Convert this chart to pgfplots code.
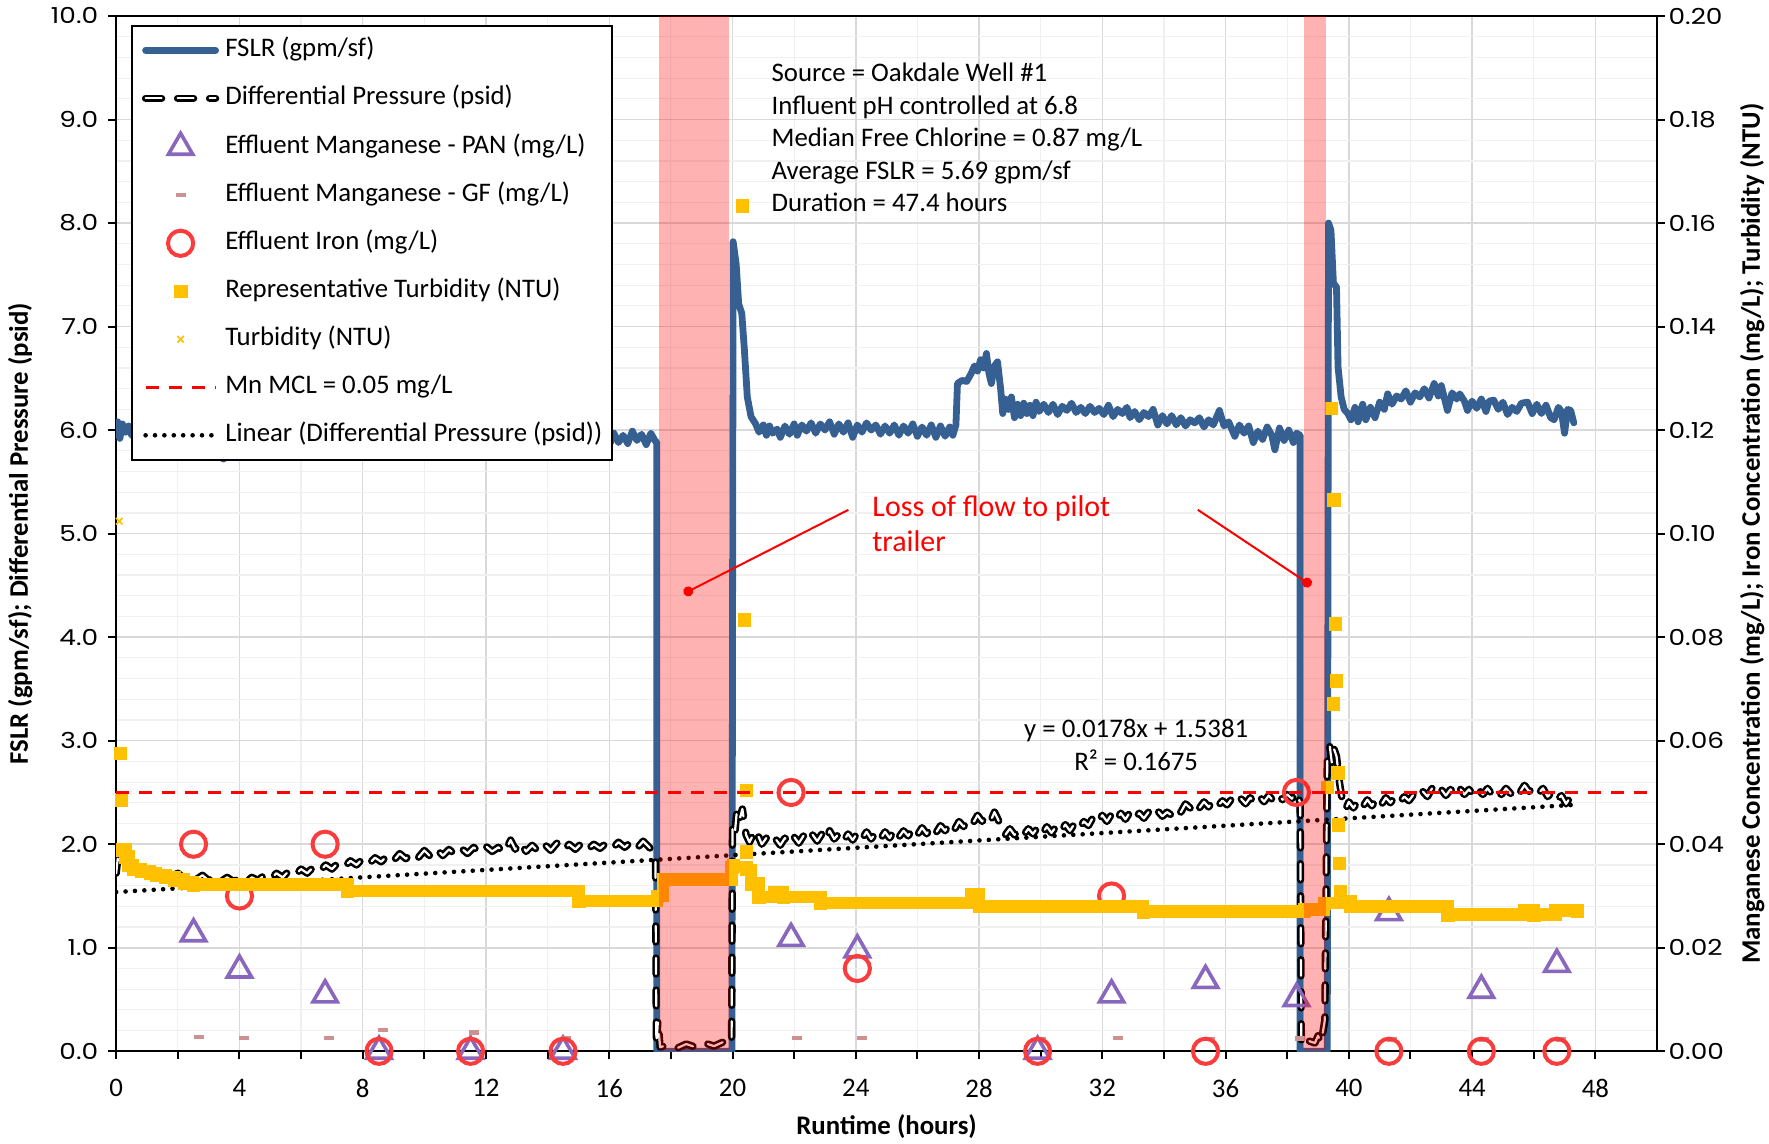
\documentclass[border=0pt]{standalone}
\usepackage{fontspec}
\setmainfont{Carlito}
\newfontfamily\tickfont[FakeStretch=1.2]{Poppins}
\usepackage{pgfplots}
\pgfplotsset{compat=1.18}
\usetikzlibrary{arrows.meta}

\definecolor{fslr}{RGB}{55,96,146}
\definecolor{pan}{RGB}{137,103,189}
\definecolor{iron}{RGB}{250,60,60}
\definecolor{turb}{RGB}{255,192,0}
\definecolor{gf}{RGB}{206,145,145}
\definecolor{majgrid}{RGB}{217,217,217}
\definecolor{mingrid}{RGB}{240,240,240}

\newcommand{\txt}{\fontsize{13.4}{16}\selectfont}
\newcommand{\ytk}{\tickfont\fontsize{11}{13}\selectfont}

\tikzset{
  fslrline/.style={color=fslr, line width=3.4pt, line join=round, line cap=round},
  dpline/.style={draw=black, line width=1.3pt, double=white, double distance=1.1pt,
                 dash pattern=on 8pt off 8pt, line cap=round, line join=round},
  trendline/.style={black, line width=2.3pt, line cap=round, dash pattern=on 0pt off 4.7pt},
}

\begin{document}
\begin{tikzpicture}
\path[use as bounding box] (-58.1pt,-46.35pt) rectangle (826.4pt,525.65pt);

% ---------- left axis: flow rate and differential pressure ----------
\begin{axis}[
  at={(0pt,0pt)}, anchor=south west,
  scale only axis, width=770.4pt, height=517.65pt,
  xmin=0, xmax=50, ymin=0, ymax=10,
  axis line style={black, line width=1.2pt},
  tick pos=left, tick align=outside,
  xtick={0,4,...,48},
  minor x tick num=1,
  extra x ticks={2,6,10,14,18,22,26,30,34,38,42,46},
  extra x tick style={grid=none, xticklabel={}},
  ytick={0,1,...,10},
  minor y tick num=4,
  major tick length=4pt, minor tick length=0pt,
  tick style={black, line width=1pt},
  grid=both,
  major grid style={draw=majgrid, line width=0.75pt},
  minor grid style={draw=mingrid, line width=0.6pt},
  /pgf/number format/assume math mode=true,
  xticklabel style={font=\txt, yshift=-6.5pt},
  yticklabel={\ytk\pgfmathprintnumber[fixed,fixed zerofill,precision=1]{\tick}},
  yticklabel style={xshift=-1.5pt},
  xlabel={\textbf{Runtime (hours)}},
  ylabel={\textbf{FSLR (gpm/sf); Differential Pressure (psid)}},
  every axis x label/.style={at={(axis description cs:0.5,0)}, anchor=base, yshift=-41.5pt, font=\txt},
  every axis y label/.style={at={(axis description cs:-0.0623,0.5)}, rotate=90, anchor=center, font=\txt},
]
% FSLR (gpm/sf)
\addplot[fslrline] coordinates {
(0,5.95) (0.05,6.08) (0.12,5.92) (0.2,6.06) (0.3,5.98) (0.4,6.04) (0.5,5.95) (0.7,6.0) (1.0,5.95) (1.5,6.0)
(2.0,5.95) (2.5,5.92) (3.0,5.97) (3.4,5.9) (3.48,5.72) (3.56,5.92) (4.0,5.98) (5.0,5.95) (6.0,5.99) (7.0,5.95)
(8.0,5.98) (9.0,5.94) (10.0,5.98) (11.0,5.94) (12.0,5.97) (13.0,5.93) (14.0,5.96) (15.0,5.92) (15.5,5.95)
(15.8,5.92) (16.0,5.85) (16.15,5.97) (16.3,5.88) (16.45,5.95) (16.6,5.87) (16.75,5.99) (16.9,5.9) (17.05,5.96)
(17.2,5.86) (17.35,5.97) (17.48,5.9) (17.54,5.88) (17.54,0) (19.98,0) (20.02,7.82)
(20.12,7.6) (20.2,7.22) (20.3,7.13) (20.38,6.8) (20.48,6.32) (20.6,6.13) (20.75,6.06) (20.86,5.98) (21.0,6.05)
(21.1,5.95) (21.2,6.04) (21.3,5.97) (21.45,6.01) (21.55,5.93) (21.7,6.04) (21.85,5.96) (22.0,6.06) (22.1,5.95)
(22.25,6.05) (22.4,5.99) (22.55,6.07) (22.7,5.97) (22.85,6.06) (23.0,6.0) (23.15,6.08) (23.3,5.96) (23.45,6.06)
(23.6,5.98) (23.75,6.07) (23.9,5.93) (24.05,6.05) (24.2,5.98) (24.35,6.07) (24.5,6.0) (24.65,6.05) (24.8,5.96)
(24.95,6.04) (25.1,5.97) (25.25,6.05) (25.4,5.95) (25.55,6.04) (25.7,5.97) (25.85,6.06) (26.0,5.94) (26.15,6.03)
(26.3,5.95) (26.45,6.05) (26.6,5.93) (26.75,6.04) (26.9,5.94) (27.05,6.03) (27.15,5.95) (27.25,6.05) (27.3,6.45)
(27.45,6.48) (27.6,6.47) (27.75,6.55) (27.85,6.62) (27.95,6.57) (28.05,6.68) (28.15,6.6) (28.24,6.74) (28.32,6.55)
(28.4,6.45) (28.5,6.62) (28.6,6.66) (28.7,6.4) (28.77,6.16) (28.85,6.3) (28.95,6.2) (29.05,6.32) (29.15,6.12)
(29.25,6.25) (29.35,6.14) (29.45,6.26) (29.55,6.16) (29.65,6.24) (29.75,6.14) (29.85,6.27) (29.95,6.18) (30.1,6.25)
(30.25,6.17) (30.4,6.25) (30.55,6.15) (30.7,6.23) (30.85,6.19) (31.0,6.26) (31.15,6.17) (31.3,6.22) (31.45,6.16)
(31.6,6.23) (31.75,6.17) (31.9,6.21) (32.05,6.15) (32.2,6.24) (32.35,6.13) (32.5,6.2) (32.65,6.16) (32.8,6.22)
(32.9,6.12) (33.05,6.18) (33.2,6.1) (33.35,6.17) (33.5,6.13) (33.65,6.2) (33.8,6.05) (33.95,6.14) (34.1,6.06)
(34.25,6.14) (34.4,6.05) (34.55,6.12) (34.7,6.04) (34.85,6.1) (35.0,6.07) (35.15,6.12) (35.3,6.03) (35.45,6.1)
(35.6,6.05) (35.8,6.19) (35.95,6.04) (36.1,6.08) (36.3,5.94) (36.45,6.05) (36.6,5.97) (36.75,6.04) (36.9,5.88)
(37.05,5.99) (37.2,5.91) (37.35,6.03) (37.5,5.95) (37.6,5.81) (37.75,6.02) (37.9,5.9) (38.05,6.0) (38.2,5.88)
(38.3,5.97) (38.42,5.95) (38.42,0) (39.3,0) (39.34,8.0) (39.42,7.93) (39.5,7.42) (39.6,7.38) (39.65,6.61)
(39.75,6.32) (39.85,6.2) (39.97,6.16) (40.07,6.1) (40.2,6.22) (40.3,6.08) (40.45,6.25) (40.55,6.1) (40.7,6.22)
(40.85,6.12) (41.0,6.27) (41.15,6.2) (41.26,6.35) (41.4,6.25) (41.55,6.33) (41.7,6.3) (41.85,6.38) (42.0,6.27)
(42.15,6.36) (42.3,6.32) (42.45,6.4) (42.6,6.31) (42.77,6.45) (42.9,6.33) (43.0,6.43) (43.2,6.19) (43.35,6.36)
(43.5,6.3) (43.6,6.35) (43.75,6.28) (43.85,6.19) (44.0,6.28) (44.15,6.21) (44.3,6.3) (44.45,6.18) (44.55,6.28)
(44.7,6.29) (44.85,6.2) (45.0,6.27) (45.15,6.15) (45.3,6.22) (45.45,6.18) (45.6,6.26) (45.8,6.27) (45.95,6.16)
(46.1,6.25) (46.25,6.16) (46.4,6.24) (46.55,6.12) (46.66,6.1) (46.8,6.22) (46.9,6.18) (47.0,5.97) (47.1,6.2)
(47.2,6.19) (47.3,6.07)
};
% Differential Pressure (psid)
\addplot[dpline] coordinates {
(0.0,1.72) (0.05,1.86) (0.15,1.79) (0.25,1.83) (0.4,1.76) (0.55,1.80) (0.7,1.74) (0.85,1.78) (1.0,1.72)
(1.2,1.76) (1.4,1.70) (1.6,1.74) (1.8,1.68) (2.0,1.72) (2.2,1.67) (2.4,1.71) (2.6,1.66) (2.8,1.70) (3.0,1.65)
(3.2,1.69) (3.4,1.64) (3.6,1.68) (3.8,1.64) (4.0,1.67) (4.2,1.63) (4.4,1.68) (4.6,1.65) (4.8,1.70) (5.0,1.66)
(5.2,1.72) (5.4,1.68) (5.6,1.74) (5.8,1.70) (6.0,1.76) (6.2,1.72) (6.4,1.78) (6.6,1.74) (6.8,1.80) (7.0,1.76)
(7.2,1.82) (7.4,1.78) (7.6,1.84) (7.8,1.80) (8.0,1.86) (8.2,1.81) (8.4,1.87) (8.6,1.83) (8.8,1.89) (9.0,1.84)
(9.2,1.91) (9.4,1.86) (9.6,1.92) (9.8,1.87) (10.0,1.94) (10.2,1.88) (10.4,1.95) (10.6,1.89) (10.8,1.95)
(11.0,1.90) (11.2,1.96) (11.4,1.91) (11.6,1.97) (11.8,1.92) (12.0,1.98) (12.2,1.93) (12.4,1.97) (12.6,1.92)
(12.8,2.04) (12.95,1.95) (13.1,2.02) (13.3,1.93) (13.5,1.99) (13.7,1.93) (13.9,2.00) (14.1,1.94) (14.3,2.01)
(14.5,1.94) (14.7,2.00) (14.9,1.95) (15.1,2.01) (15.3,1.95) (15.5,2.00) (15.7,1.96) (15.9,2.01) (16.1,1.96)
(16.3,2.02) (16.5,1.97) (16.7,2.02) (16.9,1.96) (17.1,2.03) (17.3,1.97) (17.45,1.92) (17.5,1.90)
(17.53,0.05) (17.58,0.3) (17.65,0.04) (17.9,0.06) (18.2,0.03) (18.5,0.07) (18.8,0.04) (19.1,0.08) (19.4,0.05)
(19.7,0.09) (19.9,0.06) (19.97,0.1)
(20.0,2.2) (20.08,2.12) (20.15,2.35) (20.25,2.26) (20.32,2.34) (20.44,2.09) (20.55,2.02) (20.65,2.08)
(20.75,2.01) (20.85,2.07) (20.95,2.0) (21.1,2.06) (21.25,2.0) (21.4,2.05) (21.55,1.99) (21.7,2.06) (21.85,2.0)
(22.0,2.07) (22.15,2.01) (22.3,2.08) (22.45,2.02) (22.6,2.09) (22.75,2.03) (22.9,2.1) (23.05,2.04) (23.15,2.13)
(23.3,2.05) (23.45,2.1) (23.6,2.03) (23.75,2.1) (23.9,2.04) (24.05,2.11) (24.2,2.05) (24.35,2.12) (24.5,2.05)
(24.65,2.11) (24.8,2.05) (24.95,2.12) (25.1,2.06) (25.25,2.14) (25.4,2.07) (25.55,2.13) (25.7,2.08) (25.85,2.15)
(26.0,2.09) (26.15,2.16) (26.3,2.1) (26.45,2.17) (26.6,2.11) (26.75,2.18) (26.9,2.13) (27.05,2.2) (27.2,2.14)
(27.35,2.22) (27.5,2.17) (27.65,2.24) (27.8,2.2) (27.95,2.28) (28.1,2.22) (28.25,2.29) (28.4,2.24) (28.5,2.31)
(28.6,2.25) (28.75,2.15) (28.85,2.09) (29.0,2.15) (29.15,2.09) (29.3,2.14) (29.45,2.09) (29.6,2.15) (29.75,2.1)
(29.9,2.16) (30.05,2.1) (30.2,2.17) (30.35,2.11) (30.5,2.17) (30.65,2.12) (30.8,2.19) (30.95,2.13) (31.1,2.2)
(31.25,2.15) (31.4,2.22) (31.55,2.18) (31.7,2.26) (31.85,2.21) (32.0,2.28) (32.15,2.22) (32.3,2.29) (32.45,2.23)
(32.6,2.3) (32.75,2.24) (32.9,2.31) (33.05,2.25) (33.2,2.3) (33.35,2.25) (33.5,2.31) (33.65,2.26) (33.8,2.32)
(33.95,2.27) (34.1,2.31) (34.25,2.28) (34.4,2.35) (34.55,2.31) (34.7,2.39) (34.85,2.35) (35.0,2.41) (35.15,2.35)
(35.3,2.41) (35.45,2.36) (35.6,2.42) (35.75,2.37) (35.9,2.42) (36.05,2.38) (36.2,2.44) (36.35,2.39) (36.5,2.44)
(36.65,2.39) (36.8,2.45) (36.95,2.4) (37.1,2.46) (37.25,2.41) (37.4,2.47) (37.55,2.42) (37.7,2.48) (37.85,2.43)
(38.0,2.48) (38.15,2.44) (38.3,2.51) (38.42,2.4)
(38.46,0.05) (38.7,0.1) (38.9,0.08) (39.0,0.15) (39.1,0.08) (39.22,0.3)
(39.3,2.8) (39.38,2.95) (39.45,2.78) (39.52,2.92) (39.6,2.85) (39.7,2.59) (39.8,2.4) (39.9,2.34) (40.0,2.41)
(40.15,2.35) (40.3,2.42) (40.45,2.36) (40.6,2.43) (40.75,2.37) (40.9,2.44) (41.05,2.38) (41.2,2.45) (41.35,2.4)
(41.5,2.46) (41.65,2.41) (41.8,2.46) (41.95,2.42) (42.1,2.48) (42.25,2.44) (42.4,2.51) (42.55,2.46) (42.7,2.54)
(42.85,2.48) (43.0,2.53) (43.15,2.47) (43.3,2.53) (43.45,2.47) (43.6,2.54) (43.75,2.48) (43.9,2.53) (44.05,2.47)
(44.2,2.53) (44.35,2.48) (44.5,2.54) (44.65,2.48) (44.8,2.53) (44.95,2.48) (45.1,2.54) (45.25,2.49) (45.4,2.55)
(45.55,2.5) (45.7,2.57) (45.85,2.51) (46.0,2.55) (46.15,2.49) (46.3,2.54) (46.45,2.46) (46.6,2.5) (46.75,2.43)
(46.9,2.47) (47.05,2.39) (47.2,2.46) (47.3,2.4) (47.4,2.43)
};
% linear trend of the differential pressure: y = 0.0178x + 1.5381
\addplot[trendline] coordinates {(0,1.5381) (47.4,2.3818)};

% run notes
\node[anchor=base west, font=\txt] at (axis cs:21.04,9.364) {Source = Oakdale Well \#1};
\node[anchor=base west, font=\txt] at (axis cs:21.04,9.050) {Influent pH controlled at 6.8};
\node[anchor=base west, font=\txt] at (axis cs:21.04,8.736) {Median Free Chlorine = 0.87 mg/L};
\node[anchor=base west, font=\txt] at (axis cs:21.04,8.422) {Average FSLR = 5.69 gpm/sf};
\node[anchor=base west, font=\txt] at (axis cs:21.04,8.108) {Duration = 47.4 hours};
\node[anchor=base west, font=\fontsize{15}{18}\selectfont, text=red] at (axis cs:24.31,5.163) {Loss of flow to pilot};
\node[anchor=base west, font=\fontsize{15}{18}\selectfont, text=red] at (axis cs:24.31,4.825) {trailer};
\node[anchor=base, font=\txt] at (axis cs:33.1,3.032) {y = 0.0178x + 1.5381};
\node[anchor=base, font=\txt] at (axis cs:33.1,2.716) {R² = 0.1675};
\coordinate (la1) at (axis cs:23.76,5.23);
\coordinate (lb1) at (axis cs:18.42,4.42);
\coordinate (la2) at (axis cs:35.10,5.23);
\coordinate (lb2) at (axis cs:38.78,4.50);
\end{axis}

% ---------- right axis: concentrations and turbidity ----------
\begin{axis}[
  at={(0pt,0pt)}, anchor=south west,
  scale only axis, width=770.4pt, height=517.65pt,
  xmin=0, xmax=50, ymin=0, ymax=0.2,
  axis x line=none, axis y line*=right, xtick=\empty,
  axis line style={black, line width=1.2pt},
  ytick={0,0.02,0.04,0.06,0.08,0.10,0.12,0.14,0.16,0.18,0.20},
  tick align=outside, major tick length=4pt,
  tick style={black, line width=1pt},
  /pgf/number format/assume math mode=true,
  yticklabel={\ytk\pgfmathprintnumber[fixed,fixed zerofill,precision=2]{\tick}},
  yticklabel style={xshift=-1.7pt},
  ylabel={\textbf{Manganese Concentration (mg/L); Iron Concentration (mg/L); Turbidity (NTU)}},
  every axis y label/.style={at={(axis description cs:1.0617,0.5)}, rotate=90, anchor=center, font=\txt},
  clip mode=individual,
  legend cell align=left,
  legend image code/.code={\draw[mark repeat=2,mark phase=2,#1] plot coordinates {(0pt,0pt) (17.5pt,0pt) (35pt,0pt)};},
  legend style={
    at={(axis description cs:0.00954,0.9915)}, anchor=north west,
    draw=black, line width=1pt, fill=white, font=\txt,
    inner xsep=5pt, inner ysep=5.75pt,
    row sep=11pt, column sep=3pt,
    nodes={inner sep=0pt, text height=9.8pt, text depth=3.2pt},
  },
]
\addlegendimage{fslrline}
\addlegendentry{FSLR (gpm/sf)}
\addlegendimage{dpline}
\addlegendentry{Differential Pressure (psid)}

% Effluent Manganese - PAN (mg/L)
\addplot[only marks, color=pan, mark=triangle, mark size=7pt, mark options={line width=1.8pt}] coordinates {
(2.51,0.0227) (4.0,0.0157) (6.78,0.0109) (8.53,0) (11.5,0) (14.5,0) (21.9,0.0218) (24.05,0.0196)
(29.9,0) (32.3,0.0109) (35.35,0.0137) (38.3,0.0102) (41.3,0.0268) (44.3,0.0118) (46.75,0.0168)
};
\addlegendentry{Effluent Manganese - PAN (mg/L)}

% Effluent Manganese - GF (mg/L)
\addplot[only marks, color=gf, mark=-, mark size=2.5pt, mark options={line width=2.2pt}] coordinates {
(2.7,0.0028) (4.15,0.0026) (6.9,0.0026) (8.65,0.0041) (11.6,0.0036) (14.6,0.0025) (22.1,0.0026) (24.2,0.0026)
(30.0,0.0024) (32.5,0.0026) (35.5,0.0024) (38.4,0.0025) (41.4,0.0023) (44.4,0.0023) (46.9,0.0023)
};
\addlegendentry{Effluent Manganese - GF (mg/L)}

% Effluent Iron (mg/L)
\addplot[only marks, color=iron, mark=o, mark size=6.3pt, mark options={line width=2pt}] coordinates {
(2.51,0.04) (4.0,0.03) (6.78,0.04) (8.53,0) (11.5,0) (14.5,0) (21.9,0.05) (24.05,0.016)
(29.9,0) (32.3,0.03) (35.35,0) (38.3,0.05) (41.3,0) (44.3,0) (46.75,0)
};
\addlegendentry{Effluent Iron (mg/L)}

% Representative Turbidity (NTU): running level
\addplot[const plot, color=turb, line width=6.2pt, forget plot] coordinates {
(0.2,0.0390) (0.3,0.0376) (0.4,0.0360) (0.55,0.0352) (0.8,0.0348) (1.1,0.0344) (1.3,0.0340) (1.6,0.0336)
(1.9,0.0332) (2.2,0.0326) (2.5,0.0322) (7.5,0.0310) (15.0,0.0290) (17.55,0.0300) (17.75,0.0332)
(19.97,0.0356) (20.45,0.0350) (20.6,0.0324) (20.85,0.0298) (21.35,0.0308) (21.64,0.0298) (22.85,0.0286)
(27.75,0.0304) (28.0,0.0280) (33.33,0.0270) (38.55,0.0274) (39.2,0.0286) (39.75,0.0290) (40.05,0.0280)
(43.2,0.0264) (45.7,0.0272) (46.0,0.0264) (46.7,0.0272) (47.4,0.0272)
};
% Representative Turbidity (NTU): readings
\addplot[only marks, color=turb, mark=square*, mark size=3.1pt, mark options={line width=0.1pt}] coordinates {
(0.12,0.0576) (0.15,0.0486) (0.2,0.0390) (0.3,0.0376) (0.4,0.0360) (0.55,0.0352) (0.8,0.0348) (1.1,0.0344)
(1.3,0.0340) (1.6,0.0336) (1.9,0.0332) (2.2,0.0326) (2.5,0.0322) (7.5,0.0310) (15.0,0.0290) (17.55,0.0300)
(17.75,0.0332) (19.97,0.0356) (20.02,0.0360) (20.32,0.1634) (20.38,0.0834) (20.44,0.0504) (20.44,0.0386)
(20.6,0.0324) (20.85,0.0298) (21.35,0.0308) (21.64,0.0298) (22.85,0.0286) (27.75,0.0304) (28.0,0.0280)
(33.33,0.0270) (38.55,0.0274) (39.2,0.0286) (39.3,0.0510) (39.43,0.1242) (39.48,0.0672) (39.5,0.1066)
(39.55,0.0826) (39.58,0.0716) (39.63,0.0538) (39.65,0.0438) (39.69,0.0364) (39.72,0.0310) (39.75,0.0290)
(40.05,0.0280) (43.2,0.0264) (45.7,0.0272) (46.0,0.0264) (46.7,0.0272) (47.4,0.0272)
};
\addlegendentry{Representative Turbidity (NTU)}

% Turbidity (NTU)
\addplot[only marks, color=turb, mark=x, mark size=2.3pt, mark options={line width=0.8pt}] coordinates {
(0.1,0.1024)
};
\addlegendentry{Turbidity (NTU)}

% Mn MCL = 0.05 mg/L
\addplot[color=red, line width=1.6pt, dash pattern=on 6.5pt off 5pt] coordinates {(0,0.05) (50,0.05)};
\addlegendentry{Mn MCL = 0.05 mg/L}

\addlegendimage{trendline}
\addlegendentry{Linear (Differential Pressure (psid))}

% periods with no flow to the pilot trailer
\addplot[draw=none, fill=red, fill opacity=0.3, forget plot] coordinates {(17.63,0.2) (19.90,0.2)} \closedcycle;
\addplot[draw=none, fill=red, fill opacity=0.3, forget plot] coordinates {(38.54,0.2) (39.25,0.2)} \closedcycle;
\end{axis}

% callouts to the no-flow periods
\draw[red, line width=1pt, -{Circle[length=5pt]}] (la1) -- (lb1);
\draw[red, line width=1pt, -{Circle[length=5pt]}] (la2) -- (lb2);
\end{tikzpicture}
\end{document}
